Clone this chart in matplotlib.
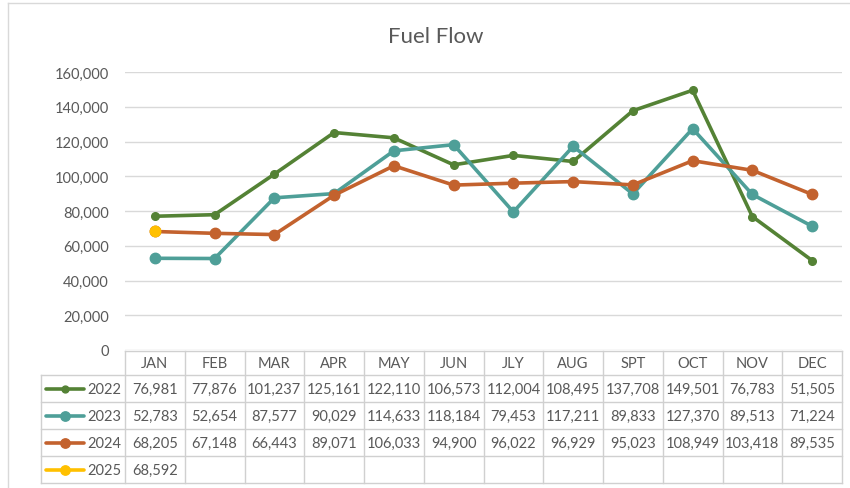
import matplotlib
matplotlib.use("Agg")
import matplotlib.pyplot as plt
from matplotlib.lines import Line2D
from matplotlib.transforms import blended_transform_factory

plt.rcParams['font.family'] = ['Lato', 'DejaVu Sans']

months = ["JAN", "FEB", "MAR", "APR", "MAY", "JUN", "JLY", "AUG", "SPT", "OCT", "NOV", "DEC"]
years = ["2022", "2023", "2024", "2025"]
v2022 = [76981, 77876, 101237, 125161, 122110, 106573, 112004, 108495, 137708, 149501, 76783, 51505]
v2023 = [52783, 52654, 87577, 90029, 114633, 118184, 79453, 117211, 89833, 127370, 89513, 71224]
v2024 = [68205, 67148, 66443, 89071, 106033, 94900, 96022, 96929, 95023, 108949, 103418, 89535]
v2025 = [68592]
series = [v2022, v2023, v2024, v2025]
colors = ["#548235", "#4E9F98", "#C3622E", "#FFC000"]
msizes = [5.5, 7.5, 7.5, 7.5]
yticks = [0, 20000, 40000, 60000, 80000, 100000, 120000, 140000, 160000]

W, H = 850, 489
fig = plt.figure(figsize=(W / 100, H / 100), dpi=100)

def fx(px):
    return px / W

def fy(py):
    return 1 - py / H

left_px, right_px, top_px, bot_px = 125, 842, 73, 351
ax = fig.add_axes([fx(left_px), fy(bot_px), fx(right_px - left_px), (bot_px - top_px) / H])
ax.set_xlim(-0.5, len(months) - 0.5)
ax.set_ylim(yticks[0], yticks[-1])
ax.set_yticks(yticks)
ax.set_yticklabels([f"{t:,}" for t in yticks])
ax.set_xticks([])
ax.tick_params(axis='y', length=0, pad=11.5, labelsize=10.5, labelcolor="#595959")
for s in ax.spines.values():
    s.set_visible(False)
ax.grid(axis='y', color="#D9D9D9", lw=1)
ax.set_axisbelow(True)

for vals, c, ms in zip(series, colors, msizes):
    ax.plot(range(len(vals)), vals, color=c, lw=2.6, marker='o', ms=ms,
            solid_capstyle='round', clip_on=False, zorder=3)

fig.text(0.513, fy(37), "Fuel Flow", ha='center', va='center', fontsize=16, color="#595959")

# outer chart border (top & left visible)
gc = "#D9D9D9"
fig.add_artist(Line2D([fx(8), fx(850)], [fy(4), fy(4)], color=gc, lw=1))
fig.add_artist(Line2D([fx(8), fx(8)], [fy(4), fy(489)], color=gc, lw=1))

# data table
trans = blended_transform_factory(ax.transData, fig.transFigure)
tc = "#D0D0D0"
row_lines = [352, 376, 403, 430, 457, 484]
x0d, x1d = -0.5, len(months) - 0.5
# header top line
fig.add_artist(Line2D([x0d, x1d], [fy(352), fy(352)], color=tc, lw=1, transform=trans))
for py in row_lines[1:]:
    fig.add_artist(Line2D([fx(41), fx(right_px)], [fy(py), fy(py)], color=tc, lw=1))
fig.add_artist(Line2D([fx(41), fx(41)], [fy(376), fy(484)], color=tc, lw=1))
for i in range(len(months) + 1):
    xd = i - 0.5
    fig.add_artist(Line2D([xd, xd], [fy(352), fy(484)], color=tc, lw=1, transform=trans))

tfs = 10.5
tcol = "#595959"
hdr_y = (352 + 376) / 2
for i, m in enumerate(months):
    fig.text(i, fy(hdr_y), m, transform=trans, ha='center', va='center', fontsize=tfs, color=tcol)
for r, (yr, vals, c, ms) in enumerate(zip(years, series, colors, msizes)):
    yc = (row_lines[r + 1] + row_lines[r + 2]) / 2 + 0.5
    fig.text(fx(121), fy(yc), yr, ha='right', va='center', fontsize=tfs, color=tcol)
    fig.add_artist(Line2D([fx(46), fx(84)], [fy(yc), fy(yc)], color=c, lw=2.6,
                          solid_capstyle='round'))
    fig.add_artist(Line2D([fx(65)], [fy(yc)], color=c, marker='o', ms=ms * 0.9, lw=0))
    for i, v in enumerate(vals):
        fig.text(i, fy(yc), f"{v:,}", transform=trans, ha='center', va='center',
                 fontsize=tfs, color=tcol)

fig.savefig("out.png", dpi=100)
